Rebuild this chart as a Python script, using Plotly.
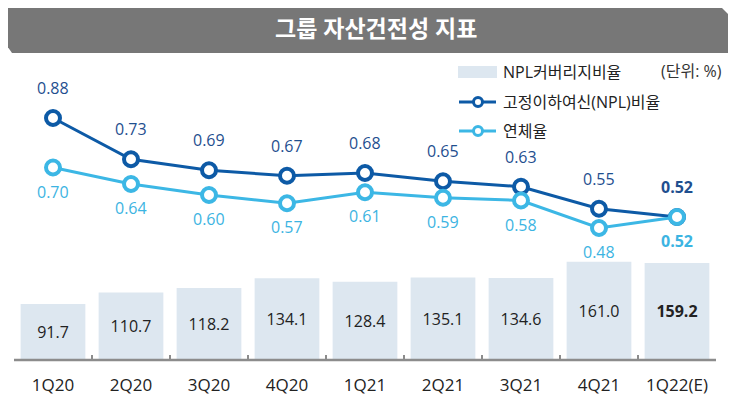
import plotly.graph_objects as go

categories = ["1Q20", "2Q20", "3Q20", "4Q20", "1Q21", "2Q21", "3Q21", "4Q21", "1Q22(E)"]
coverage = [91.7, 110.7, 118.2, 134.1, 128.4, 135.1, 134.6, 161.0, 159.2]
npl_ratio = [0.88, 0.73, 0.69, 0.67, 0.68, 0.65, 0.63, 0.55, 0.52]
delinquency = [0.70, 0.64, 0.60, 0.57, 0.61, 0.59, 0.58, 0.48, 0.52]

title_text = "그룹 자산건전성 지표"
legend_names = ["NPL커버리지비율", "고정이하여신(NPL)비율", "연체율"]
unit_text = "(단위: %)"

BAR_C = "#dde7f0"
DARK = "#0d5aa6"
DARK_T = "#1f4f8f"
LIGHT = "#3cb7e5"
LIGHT_T = "#3cb4e2"
FONT = "Open Sans, Noto Sans CJK KR, sans-serif"

W, H = 736, 399
OFF = 8  # page body offset: screen px = figure px + OFF

# intended plot area in screen pixels
SX0, SX1, SY0, SY1 = 14, 716, 60, 360
L = SX0 - OFF
T = SY0 - OFF
R = W - (SX1 - OFF)
B = H - (SY1 - OFF)
PW = SX1 - SX0
PH = SY1 - SY0


def px(x):
    return (x - SX0) / PW


def py(y):
    return (SY1 - y) / PH


last = len(categories) - 1
bar_text = [f"<b>{v:.1f}</b>" if i == last else f"{v:.1f}" for i, v in enumerate(coverage)]

fig = go.Figure()
fig.add_trace(go.Bar(
    x=categories, y=coverage, marker=dict(color=BAR_C, line=dict(width=0)),
    width=0.83, text=bar_text, textposition="inside", insidetextanchor="middle",
    textfont=dict(size=16, color="#222222", family=FONT),
    showlegend=False, hoverinfo="skip", yaxis="y",
))
fig.add_trace(go.Scatter(
    x=categories, y=npl_ratio, mode="lines+markers",
    line=dict(color=DARK, width=3),
    marker=dict(size=14, color="white", line=dict(color=DARK, width=4)),
    showlegend=False, yaxis="y2", cliponaxis=False,
))
fig.add_trace(go.Scatter(
    x=categories, y=delinquency, mode="lines+markers",
    line=dict(color=LIGHT, width=3),
    marker=dict(size=14, color="white", line=dict(color=LIGHT, width=4)),
    showlegend=False, yaxis="y2", cliponaxis=False,
))

annotations = []
for i, (c, v) in enumerate(zip(categories, npl_ratio)):
    t = f"<b>{v:.2f}</b>" if i == last else f"{v:.2f}"
    annotations.append(dict(x=c, y=v, xref="x", yref="y2", text=t, showarrow=False,
                            yshift=30, font=dict(size=16, color=DARK_T, family=FONT)))
for i, (c, v) in enumerate(zip(categories, delinquency)):
    t = f"<b>{v:.2f}</b>" if i == last else f"{v:.2f}"
    annotations.append(dict(x=c, y=v, xref="x", yref="y2", text=t, showarrow=False,
                            yshift=-24, font=dict(size=16, color=LIGHT_T, family=FONT)))

# title
annotations.append(dict(x=px(376), y=py(28), xref="paper", yref="paper", text=f"<b>{title_text}</b>",
                        showarrow=False, font=dict(size=23, color="white", family=FONT),
                        xanchor="center", yanchor="middle"))
# legend texts
leg_y = [72, 102, 131]
for name, yy in zip(legend_names, leg_y):
    annotations.append(dict(x=px(501), y=py(yy), xref="paper", yref="paper", text=name,
                            showarrow=False, xanchor="left", yanchor="middle",
                            font=dict(size=16, color="#222222", family=FONT)))
annotations.append(dict(x=px(724), y=py(71), xref="paper", yref="paper", text=unit_text,
                        showarrow=False, xanchor="right", yanchor="middle",
                        font=dict(size=16, color="#333333", family=FONT)))

shapes = []
# title bar
x0, x1, y0, y1 = 3, 729, 5, 53
path = (f"M {px(x0)},{py(y0)} L {px(x1-10)},{py(y0)} L {px(x1)},{py(y0+10)} "
        f"L {px(x1)},{py(y1)} L {px(x0+9)},{py(y1)} L {px(x0)},{py(y1-13)} Z")
shapes.append(dict(type="path", path=path, xref="paper", yref="paper",
                   fillcolor="#777777", line=dict(width=0), layer="below"))
# legend swatch
shapes.append(dict(type="rect", xref="paper", yref="paper", x0=px(458), x1=px(497),
                   y0=py(66), y1=py(78), fillcolor=BAR_C, line=dict(width=0)))
for col, yy in [(DARK, leg_y[1]), (LIGHT, leg_y[2])]:
    shapes.append(dict(type="line", xref="paper", yref="paper", x0=px(459), x1=px(496),
                       y0=py(yy), y1=py(yy), line=dict(color=col, width=3)))
    r = 4.5
    shapes.append(dict(type="circle", xref="paper", yref="paper", x0=px(478 - r), x1=px(478 + r),
                       y0=py(yy + r), y1=py(yy - r), fillcolor="white", line=dict(color=col, width=3)))
# x-axis baseline
shapes.append(dict(type="line", xref="paper", yref="paper", x0=0, x1=1, y0=0, y1=0,
                   line=dict(color="#8c8c8c", width=2.5), layer="above"))

fig.update_layout(
    width=W, height=H, margin=dict(l=L, r=R, t=T, b=B, autoexpand=False),
    paper_bgcolor="white", plot_bgcolor="white",
    font=dict(family=FONT, color="#222222"),
    xaxis=dict(type="category", showgrid=False, showline=False,
               ticks="inside", tickson="boundaries", ticklen=5, tickwidth=2, tickcolor="#8c8c8c",
               tickfont=dict(size=17, color="#222222", family=FONT), range=[-0.5, 8.5],
               ticklabelstandoff=13, zeroline=False, automargin=False),
    yaxis=dict(range=[0, PH / 0.61], visible=False, fixedrange=True, automargin=False),
    yaxis2=dict(range=[0, PH / 275], visible=False, overlaying="y", fixedrange=True, automargin=False),
    annotations=annotations, shapes=shapes, showlegend=False,
)

fig.write_html("out.html")
